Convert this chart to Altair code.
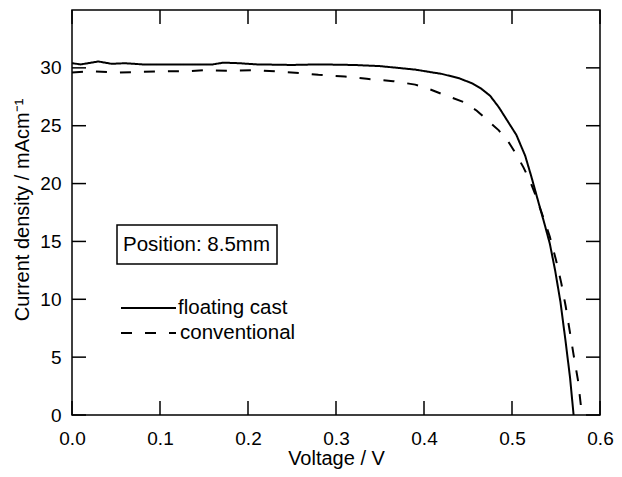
import altair as alt
import pandas as pd

# ---- data ----
SERIES = ["floating cast", "conventional"]

V_FLOAT = [0.000, 0.010, 0.030, 0.045, 0.060, 0.080, 0.100, 0.130, 0.160, 0.172, 0.190,
           0.210, 0.250, 0.280, 0.320, 0.350, 0.370, 0.390, 0.410, 0.420, 0.440, 0.455,
           0.465, 0.475, 0.485, 0.495, 0.505, 0.515, 0.522, 0.530, 0.537, 0.543, 0.549,
           0.555, 0.561, 0.566, 0.570]
J_FLOAT = [30.4, 30.3, 30.55, 30.35, 30.4, 30.3, 30.3, 30.3, 30.3, 30.45, 30.4,
           30.3, 30.25, 30.3, 30.25, 30.15, 30.0, 29.85, 29.6, 29.48, 29.1, 28.65,
           28.2, 27.6, 26.6, 25.4, 24.2, 22.4, 20.6, 18.4, 16.5, 14.8, 12.5,
           9.8, 6.3, 3.2, 0.0]

V_CONV = [0.000, 0.020, 0.050, 0.080, 0.100, 0.130, 0.150, 0.180, 0.210, 0.240, 0.260,
          0.280, 0.310, 0.335, 0.365, 0.390, 0.405, 0.420, 0.445, 0.460, 0.473, 0.485,
          0.496, 0.505, 0.513, 0.520, 0.526, 0.535, 0.543, 0.550, 0.556, 0.561, 0.5655,
          0.570, 0.575, 0.5795]
J_CONV = [29.6, 29.7, 29.6, 29.65, 29.7, 29.7, 29.8, 29.75, 29.8, 29.65, 29.55,
          29.4, 29.25, 29.05, 28.85, 28.55, 28.2, 27.75, 27.05, 26.3, 25.4, 24.6,
          23.6, 22.5, 21.4, 20.3, 19.15, 17.2, 15.4, 13.4, 11.4, 9.4, 7.3,
          5.2, 3.0, 0.0]

X_TICKS = [0.0, 0.1, 0.2, 0.3, 0.4, 0.5, 0.6]
Y_TICKS = [0, 5, 10, 15, 20, 25, 30]
BOX_TEXT = ["Position: 8.5mm"]

X_TITLE = "Voltage / V"
Y_TITLE = "Current density / mAcm\u207b\u00b9"

# ---- layout ----
W, H = 528, 405
TICK = 14
FONT = "Liberation Sans"

df = pd.concat([
    pd.DataFrame({"V": V_FLOAT, "J": J_FLOAT, "series": SERIES[0]}),
    pd.DataFrame({"V": V_CONV, "J": J_CONV, "series": SERIES[1]}),
], ignore_index=True)

x_scale = alt.Scale(domain=[0, 0.6], nice=False, zero=False)
y_scale = alt.Scale(domain=[0, 35], nice=False, zero=False)

x_axis = alt.Axis(values=X_TICKS, format=".1f", title=X_TITLE, ticks=False, tickSize=0,
                  labelPadding=29, labelBaseline="alphabetic", labelFlush=False,
                  labelOverlap=False, titleX=W / 2, titleY=49, titleAlign="center",
                  titleBaseline="alphabetic")
y_axis = alt.Axis(values=Y_TICKS, title=Y_TITLE, ticks=False, tickSize=0,
                  labelPadding=11, labelFlush=False, labelOverlap=False,
                  titleAngle=270, titleX=-44, titleY=H / 2 - 3, titleAlign="center",
                  titleBaseline="alphabetic")

X_ENC = alt.X("V:Q", scale=x_scale, axis=x_axis)
Y_ENC = alt.Y("J:Q", scale=y_scale, axis=y_axis)

lines = alt.Chart(df).mark_line(strokeWidth=2, color="black").encode(
    x=X_ENC,
    y=Y_ENC,
    strokeDash=alt.StrokeDash("series:N",
                              scale=alt.Scale(domain=SERIES, range=[[1, 0], [11, 13]]),
                              legend=None),
)

xt = pd.DataFrame({"V": X_TICKS})
yt = pd.DataFrame({"J": Y_TICKS})
rule_kw = dict(strokeWidth=1.5, color="black")

tick_bottom = alt.Chart(xt).mark_rule(**rule_kw).encode(
    x=X_ENC, y=alt.value(H), y2=alt.value(H - TICK))
tick_top = alt.Chart(xt).mark_rule(**rule_kw).encode(
    x=X_ENC, y=alt.value(0), y2=alt.value(TICK))
tick_left = alt.Chart(yt).mark_rule(**rule_kw).encode(
    y=Y_ENC, x=alt.value(0), x2=alt.value(TICK))
tick_right = alt.Chart(yt).mark_rule(**rule_kw).encode(
    y=Y_ENC, x=alt.value(W), x2=alt.value(W - TICK))

# annotation box
box_df = pd.DataFrame({"t": BOX_TEXT})
box = alt.Chart(box_df).mark_rect(fill="white", stroke="black", strokeWidth=1.5).encode(
    x=alt.value(45), x2=alt.value(205), y=alt.value(215), y2=alt.value(254))
box_text = alt.Chart(box_df).mark_text(font=FONT, fontSize=20.5, align="left",
                                       baseline="middle", color="black").encode(
    x=alt.value(51), y=alt.value(235), text="t:N")

# legend (manual, inside the plot)
leg1_df = pd.DataFrame({"series": [SERIES[0]]})
leg2_df = pd.DataFrame({"series": [SERIES[1]]})
leg1_line = alt.Chart(leg1_df).mark_rule(strokeWidth=2, color="black").encode(
    x=alt.value(49), x2=alt.value(104), y=alt.value(298))
leg2_line = alt.Chart(leg2_df).mark_rule(strokeWidth=2, color="black",
                                         strokeDash=[11, 13]).encode(
    x=alt.value(49), x2=alt.value(104), y=alt.value(323))
leg1_text = alt.Chart(leg1_df).mark_text(font=FONT, fontSize=20.5, align="left",
                                         baseline="middle", color="black").encode(
    x=alt.value(106), y=alt.value(298), text="series:N")
leg2_text = alt.Chart(leg2_df).mark_text(font=FONT, fontSize=20.5, align="left",
                                         baseline="middle", color="black").encode(
    x=alt.value(108), y=alt.value(323), text="series:N")

chart = alt.layer(
    lines, tick_bottom, tick_top, tick_left, tick_right,
    box, box_text, leg1_line, leg2_line, leg1_text, leg2_text,
).properties(
    width=W, height=H,
    autosize=alt.AutoSizeParams(type="none"),
    padding={"left": 64, "top": 2, "right": 14, "bottom": 54},
    background="white",
).configure_view(
    stroke="black", strokeWidth=1.5,
).configure_axis(
    domain=False, grid=False,
    labelFont=FONT, labelFontSize=19, labelColor="black",
    titleFont=FONT, titleFontSize=20, titleFontWeight="normal", titleColor="black",
)

chart.save("out.html", embed_options={"renderer": "svg", "actions": False})
